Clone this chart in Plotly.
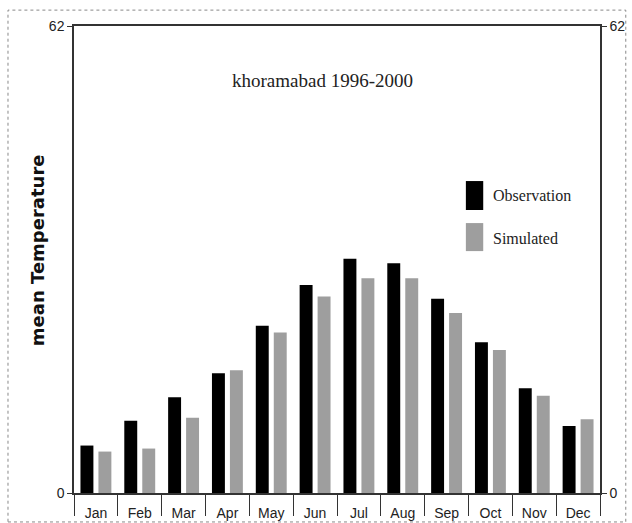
import plotly.graph_objects as go

months = ["Jan", "Feb", "Mar", "Apr", "May", "Jun", "Jul", "Aug", "Sep", "Oct", "Nov", "Dec"]
observation = [6.3, 9.6, 12.7, 15.9, 22.2, 27.6, 31.1, 30.5, 25.8, 20.0, 13.9, 8.9]
simulated = [5.5, 5.9, 10.0, 16.3, 21.3, 26.1, 28.5, 28.5, 23.9, 19.0, 12.9, 9.8]
y_ticks = [0, 62]

OBS_COLOR = "#000000"
SIM_COLOR = "#9e9e9e"
AXIS_COLOR = "#333333"
TICK_FONT = dict(family="Liberation Sans Narrow, Liberation Sans, Arial", size=14, color="#222222")
SERIF = "Liberation Serif, Times New Roman, serif"

fig = go.Figure()
fig.add_trace(go.Bar(x=months, y=observation, name="Observation", marker_color=OBS_COLOR,
                     marker_line_width=0))
fig.add_trace(go.Bar(x=months, y=simulated, name="Simulated", marker_color=SIM_COLOR,
                     marker_line_width=0))
fig.add_trace(go.Scatter(x=[], y=[], yaxis="y2", showlegend=False))

fig.update_layout(
    width=632, height=523,
    margin=dict(l=74, r=32, t=26, b=30),
    paper_bgcolor="white", plot_bgcolor="white",
    barmode="group", bargap=0.18, bargroupgap=0.28,
    showlegend=False,
    xaxis=dict(
        type="category", showgrid=False, showline=True, linecolor=AXIS_COLOR, linewidth=1.5,
        mirror=True, ticks="outside", tickson="boundaries", ticklen=21, tickcolor=AXIS_COLOR,
        tickwidth=1, tickfont=TICK_FONT, ticklabelstandoff=6, automargin=False,
    ),
    yaxis=dict(
        range=[0, 62], tickvals=y_ticks, showgrid=False, zeroline=False, showline=True,
        linecolor=AXIS_COLOR, linewidth=1.5, ticks="outside", ticklen=5, tickcolor=AXIS_COLOR,
        tickfont=TICK_FONT, automargin=False,
    ),
    yaxis2=dict(
        range=[0, 62], tickvals=y_ticks, overlaying="y", side="right", showgrid=False,
        zeroline=False, showline=True, linecolor=AXIS_COLOR, linewidth=1.5, ticks="outside",
        ticklen=5, tickcolor=AXIS_COLOR, tickfont=TICK_FONT, automargin=False,
    ),
)

shapes = [
    dict(type="rect", xref="paper", yref="paper", x0=-0.1255, x1=1.049, y0=-0.062, y1=1.034,
         line=dict(color="#888888", width=1, dash="dot"), fillcolor="rgba(0,0,0,0)", layer="below"),
    dict(type="rect", xref="paper", yref="paper", x0=0.745, x1=0.778, y0=0.606, y1=0.668,
         line=dict(width=0), fillcolor=OBS_COLOR),
    dict(type="rect", xref="paper", yref="paper", x0=0.745, x1=0.778, y0=0.518, y1=0.578,
         line=dict(width=0), fillcolor=SIM_COLOR),
]
fig.update_layout(shapes=shapes)

annotations = [
    dict(text="khoramabad 1996-2000", xref="paper", yref="paper", x=0.4715, y=0.884,
         showarrow=False, xanchor="center", yanchor="middle",
         font=dict(family=SERIF, size=19, color="#222222")),
    dict(text="Observation", xref="paper", yref="paper", x=0.793, y=0.636, showarrow=False,
         xanchor="left", yanchor="middle", font=dict(family=SERIF, size=16, color="#222222")),
    dict(text="Simulated", xref="paper", yref="paper", x=0.793, y=0.546, showarrow=False,
         xanchor="left", yanchor="middle", font=dict(family=SERIF, size=16, color="#222222")),
    dict(text="<b>mean Temperature</b>", xref="paper", yref="paper", x=-0.0703, y=0.52,
         showarrow=False, textangle=-90, xanchor="center", yanchor="middle",
         font=dict(family="DejaVu Sans, Verdana, sans-serif", size=18, color="#111111")),
]
fig.update_layout(annotations=annotations)

fig.write_html("out.html", config={"displayModeBar": False},
               post_script="document.body.style.margin='0';")
